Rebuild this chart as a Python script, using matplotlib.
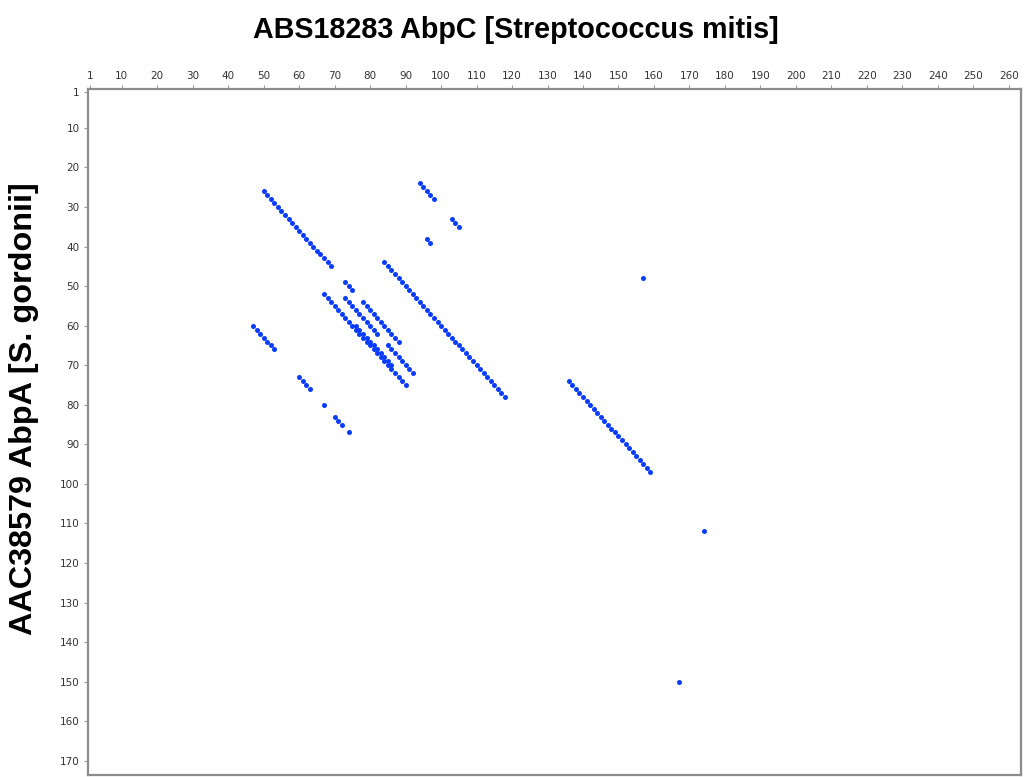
import numpy as np
import matplotlib
matplotlib.use('Agg')
import matplotlib.pyplot as plt

# diagonal match runs: start on x (AbpC), start on y (AbpA), number of residues
run_x = [50, 94, 103, 96, 84, 157, 136, 174, 167, 47, 60, 67, 70, 74,
         73, 67, 73, 76, 78, 85]
run_y = [26, 24, 33, 38, 44, 48, 74, 112, 150, 60, 73, 80, 83, 87,
         49, 52, 53, 60, 54, 65]
run_len = [20, 5, 3, 2, 35, 1, 24, 1, 1, 7, 4, 1, 3, 1,
           3, 24, 10, 11, 11, 8]

x_ticks = [1] + list(range(10, 261, 10))
y_ticks = [1] + list(range(10, 171, 10))

title = 'ABS18283 AbpC [Streptococcus mitis]'
ylabel = 'AAC38579 AbpA [S. gordonii]'

xs = []
ys = []
for x0, y0, n in zip(run_x, run_y, run_len):
    for k in range(n):
        xs.append(x0 + k)
        ys.append(y0 + k)

fig = plt.figure(figsize=(10.26, 7.77), dpi=100)
ax = fig.add_axes([0.0858, 0.0026, 0.9092, 0.8829])

ax.scatter(xs, ys, s=13, color='#0a3cff', linewidths=0, zorder=3)

ax.set_xlim(0.5, 263.4)
ax.set_ylim(173.6, 0.15)
ax.xaxis.tick_top()
ax.set_xticks(x_ticks)
ax.set_yticks(y_ticks)
ax.tick_params(axis='both', labelsize=7.5, labelcolor='#333333', color='#999999',
               length=3, width=0.8, direction='out', pad=3)

for sp in ax.spines.values():
    sp.set_color('#8c8c8c')
    sp.set_linewidth(1.6)

fig.text(0.5025, 0.962, title, ha='center', va='center', fontsize=20.7,
         fontweight='bold', family='Liberation Sans')
fig.text(0.0234, 0.474, ylabel, ha='center', va='center', rotation=90, fontsize=23.3,
         fontweight='bold', family='Liberation Sans')

fig.savefig('out.png', dpi=100)
